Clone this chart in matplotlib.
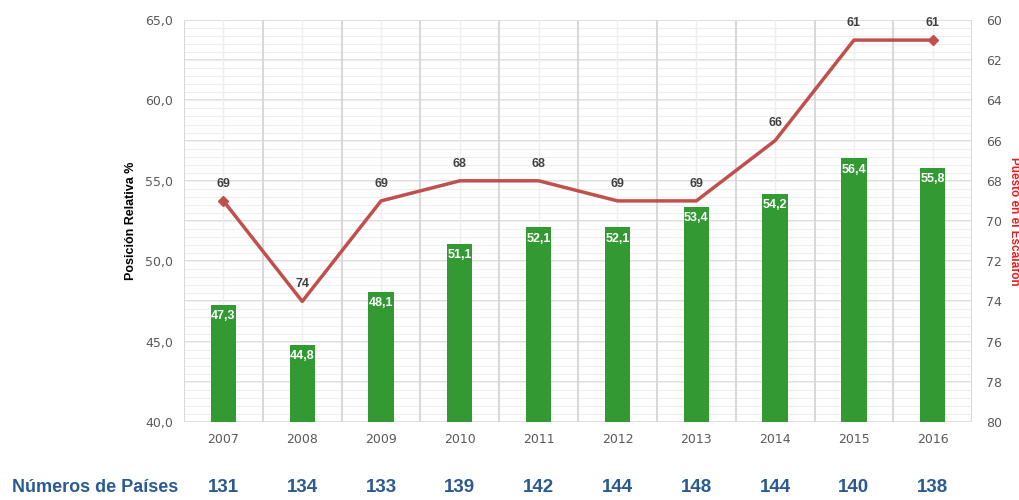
import matplotlib.pyplot as plt
from matplotlib.ticker import MultipleLocator, FixedLocator

years = ["2007", "2008", "2009", "2010", "2011", "2012", "2013", "2014", "2015", "2016"]
posicion = [47.3, 44.8, 48.1, 51.1, 52.1, 52.1, 53.4, 54.2, 56.4, 55.8]
puesto = [69, 74, 69, 68, 68, 69, 69, 66, 61, 61]
paises = [131, 134, 133, 139, 142, 144, 148, 144, 140, 138]

GREEN = "#339933"
RED = "#c0504d"
GRAY = "#595959"
BLUE = "#2a5a94"
NARROW = ["Liberation Sans Narrow", "Liberation Sans", "DejaVu Sans"]

fig = plt.figure(figsize=(10.19, 5), dpi=100)
ax = fig.add_axes([0.1806, 0.156, 0.7734, 0.804])
x = list(range(len(years)))

# grid: major every 2.5, minor every 0.5, vertical at boundaries + centers
ax.set_xlim(-0.5, len(years) - 0.5)
ax.set_ylim(40, 65)
ax.yaxis.set_major_locator(FixedLocator([40, 45, 50, 55, 60, 65]))
ax.yaxis.set_minor_locator(MultipleLocator(0.5))
for v in [40 + 2.5 * i for i in range(11)]:
    ax.axhline(v, color="#d9d9d9", lw=1.2, zorder=0)
for i in range(50):
    ax.axhline(40 + 0.5 * i, color="#eeeeee", lw=0.8, zorder=0)
for i in range(len(years) + 1):
    ax.axvline(i - 0.5, color="#d9d9d9", lw=1.5, zorder=0)
for i in x:
    ax.axvline(i, color="#eeeeee", lw=1.0, zorder=0)

ax.bar(x, [p - 40 for p in posicion], 0.32, bottom=40, color=GREEN, zorder=2)
for i, v in enumerate(posicion):
    ax.annotate(f"{v:.1f}".replace(".", ","), xy=(i, v), xytext=(0, -4),
                textcoords="offset points", ha="center", va="top",
                color="white", fontweight="bold", fontsize=9, family=NARROW, zorder=3)

ax.set_xticks(x)
ax.set_xticklabels(years)
ax.tick_params(axis="both", length=0, colors=GRAY, labelsize=9, pad=8)
ax.set_yticklabels([f"{v:.1f}".replace(".", ",") for v in [40, 45, 50, 55, 60, 65]])
ax.tick_params(axis="y", which="minor", length=0)
for s in ax.spines.values():
    s.set_visible(False)
ax.set_ylabel("Posición Relativa %", fontsize=9, fontweight="bold", family=NARROW,
              color="black", labelpad=6)

ax2 = ax.twinx()
ax2.set_ylim(80, 60)
ax2.set_yticks(list(range(60, 81, 2)))
ax2.tick_params(axis="y", length=0, colors=GRAY, labelsize=9, pad=10)
for s in ax2.spines.values():
    s.set_visible(False)
ax2.plot(x, puesto, color=RED, lw=2.5, marker="D", markersize=5, markevery=[0, 9], zorder=4)
for i, v in enumerate(puesto):
    ax2.annotate(str(v), xy=(i, v), xytext=(0, 8), textcoords="offset points",
                 ha="center", va="bottom", color="#404040", fontweight="bold",
                 fontsize=9, family=NARROW)
ax2.set_ylabel("Puesto en el Escalafón", fontsize=8.5, fontweight="bold", family=NARROW,
               color="#e02020", rotation=-90, labelpad=4, va="bottom")

# bottom row: country counts
fig.text(12 / 1019, 1 - 488 / 500, "Números de Países", fontsize=13, fontweight="bold",
         color=BLUE, family=NARROW, va="center", ha="left")
for i, n in enumerate(paises):
    fx = fig.transFigure.inverted().transform(ax.transData.transform((i, 40)))[0]
    fig.text(fx, 1 - 488 / 500, str(n), fontsize=13.5, fontweight="bold", color=BLUE,
             family=NARROW, va="center", ha="center")

fig.savefig("out.png", dpi=100)
